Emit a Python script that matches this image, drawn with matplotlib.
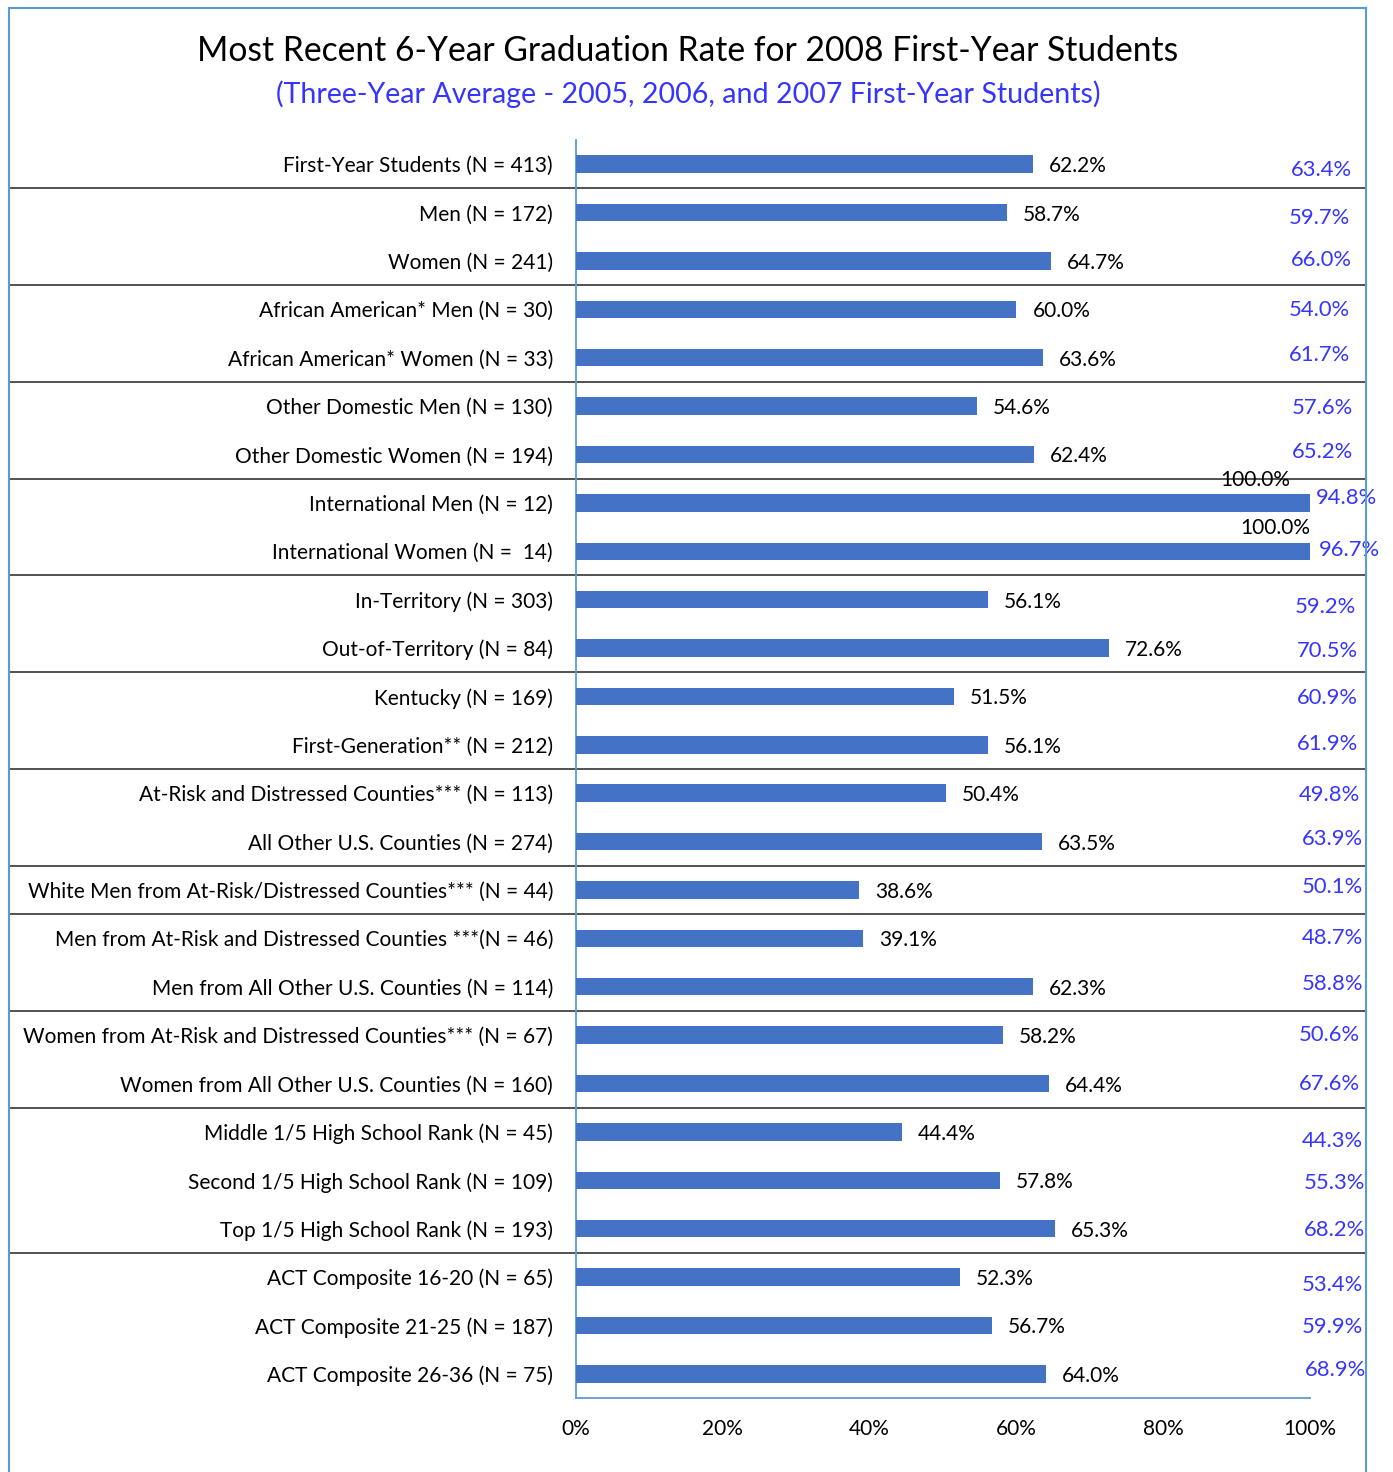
import matplotlib.pyplot as plt
from matplotlib.transforms import blended_transform_factory

plt.rcParams['font.family'] = ['Lato', 'DejaVu Sans']

categories = [
    "First-Year Students (N = 413)",
    "Men (N = 172)",
    "Women (N = 241)",
    "African American* Men (N = 30)",
    "African American* Women (N = 33)",
    "Other Domestic Men (N = 130)",
    "Other Domestic Women (N = 194)",
    "International Men (N = 12)",
    "International Women (N =  14)",
    "In-Territory (N = 303)",
    "Out-of-Territory (N = 84)",
    "Kentucky (N = 169)",
    "First-Generation** (N = 212)",
    "At-Risk and Distressed Counties*** (N = 113)",
    "All Other U.S. Counties (N = 274)",
    "White Men from At-Risk/Distressed Counties*** (N = 44)",
    "Men from At-Risk and Distressed Counties ***(N = 46)",
    "Men from All Other U.S. Counties (N = 114)",
    "Women from At-Risk and Distressed Counties*** (N = 67)",
    "Women from All Other U.S. Counties (N = 160)",
    "Middle 1/5 High School Rank (N = 45)",
    "Second 1/5 High School Rank (N = 109)",
    "Top 1/5 High School Rank (N = 193)",
    "ACT Composite 16-20 (N = 65)",
    "ACT Composite 21-25 (N = 187)",
    "ACT Composite 26-36 (N = 75)",
]

# 2008 cohort rate
rate_2008 = [62.2, 58.7, 64.7, 60.0, 63.6, 54.6, 62.4, 100.0, 100.0, 56.1,
             72.6, 51.5, 56.1, 50.4, 63.5, 38.6, 39.1, 62.3, 58.2, 64.4,
             44.4, 57.8, 65.3, 52.3, 56.7, 64.0]

# three-year average (2005-2007 cohorts)
rate_avg = [63.4, 59.7, 66.0, 54.0, 61.7, 57.6, 65.2, 94.8, 96.7, 59.2,
            70.5, 60.9, 61.9, 49.8, 63.9, 50.1, 48.7, 58.8, 50.6, 67.6,
            44.3, 55.3, 68.2, 53.4, 59.9, 68.9]

# rows after which a separator line is drawn
group_ends = [0, 2, 4, 6, 8, 10, 12, 14, 15, 17, 19, 22]

# placement of the blue average labels (right edge in px, vertical shift in px)
avg_right = [1352, 1350, 1352, 1350, 1350, 1353, 1353, 1377, 1380, 1356,
             1358, 1358, 1358, 1360, 1363, 1363, 1363, 1363, 1360, 1360,
             1363, 1365, 1365, 1363, 1363, 1366]
avg_shift = [6, 5, -1, 1, -3, 2, -3, -5, -1, 7, 3, 2, -1, 2, -3, -3, 0, -3,
             0, 1, 9, 3, 1, 8, 2, -4]

W, H = 1393, 1472
bar_color = '#4472C4'
axis_color = '#5B9BD5'
blue_text = '#3535FF'
fs = 15

fig = plt.figure(figsize=(W / 100, H / 100), dpi=100)
ax = fig.add_axes([576 / W, 1 - 1398 / H, (1310 - 576) / W, (1398 - 140) / H])

y = list(range(len(categories)))
ax.barh(y, rate_2008, height=0.36, color=bar_color, zorder=3)
ax.set_xlim(0, 100)
ax.set_ylim(len(categories) - 0.5, -0.5)
ax.set_yticks(y)
ax.set_yticklabels(categories, fontsize=fs)
ax.set_xticks([0, 20, 40, 60, 80, 100])
ax.set_xticklabels([f"{t}%" for t in [0, 20, 40, 60, 80, 100]], fontsize=fs)
ax.tick_params(axis='y', length=0, pad=16.5)
ax.tick_params(axis='x', length=0, pad=15)
for s in ['top', 'right']:
    ax.spines[s].set_visible(False)
for s in ['left', 'bottom']:
    ax.spines[s].set_color(axis_color)
    ax.spines[s].set_linewidth(1.3)

# value labels for the bars
for i, v in enumerate(rate_2008):
    if v >= 100:
        dx = -20 if i == 7 else 0
        ax.annotate(f"{v:.1f}%", (v, i), xytext=(dx, 13), textcoords='offset pixels',
                    ha='right', va='bottom', fontsize=fs)
    else:
        ax.annotate(f"{v:.1f}%", (v, i), xytext=(16, -2), textcoords='offset pixels',
                    ha='left', va='center', fontsize=fs)

# three-year averages in the right column
tr = blended_transform_factory(fig.transFigure, ax.transData)
for i, v in enumerate(rate_avg):
    ax.annotate(f"{v:.1f}%", (avg_right[i] / W, i), xycoords=tr,
                xytext=(0, -avg_shift[i]), textcoords='offset pixels',
                ha='right', va='center', fontsize=15.8, color=blue_text,
                annotation_clip=False)

# group separators across the full width
for g in group_ends:
    ax.plot([10 / W, 1366 / W], [g + 0.5, g + 0.5], transform=tr,
            color='#333333', lw=1.2, clip_on=False, zorder=1)

# outer frame
fig.add_artist(plt.Line2D([9 / W, 9 / W], [0, 1 - 8 / H], color=axis_color, lw=1.5))
fig.add_artist(plt.Line2D([1366 / W, 1366 / W], [0, 1 - 8 / H], color=axis_color, lw=1.5))
fig.add_artist(plt.Line2D([9 / W, 1366 / W], [1 - 8 / H, 1 - 8 / H], color=axis_color, lw=1.5))

fig.text(688 / W, 1 - 51 / H, "Most Recent 6-Year Graduation Rate for 2008 First-Year Students",
         ha='center', va='center', fontsize=24.2)
fig.text(688 / W, 1 - 94 / H, "(Three-Year Average - 2005, 2006, and 2007 First-Year Students)",
         ha='center', va='center', fontsize=20.6, color=blue_text)

fig.savefig('out.png', dpi=100)
